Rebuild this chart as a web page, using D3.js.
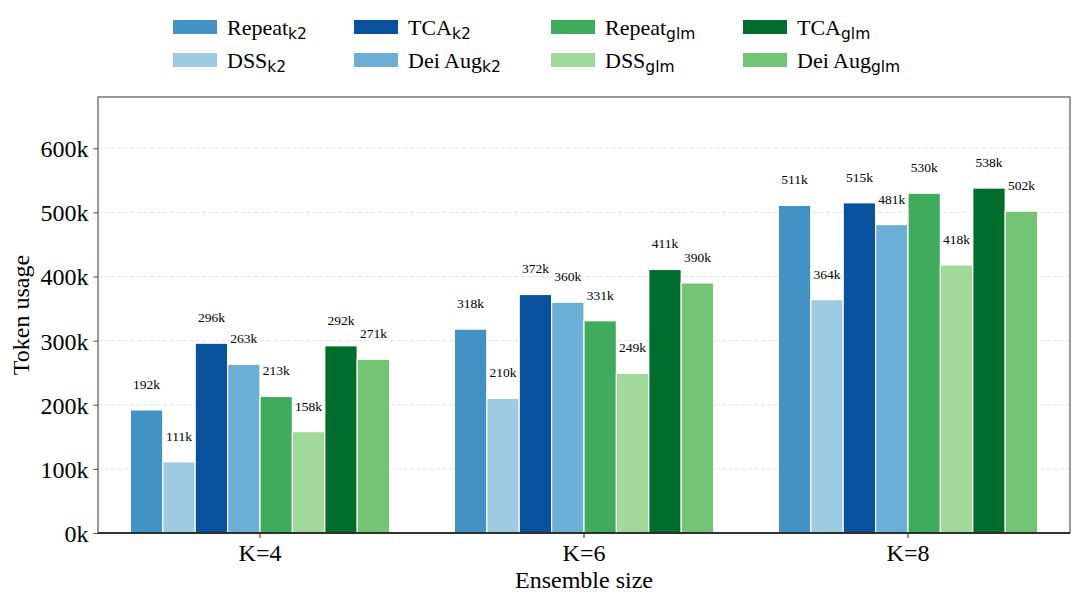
<!DOCTYPE html>
<html>
<head>
<meta charset="utf-8">
<script src="https://cdn.jsdelivr.net/npm/d3@7"></script>
<style>
  body { margin: 0; background: #fff; }
  text { font-family: "Liberation Serif", "Times New Roman", serif; fill: #000; }
</style>
</head>
<body>
<script>
// data
var groups = ["K=4", "K=6", "K=8"];
var seriesName = ["Repeat", "DSS", "TCA", "Dei Aug", "Repeat", "DSS", "TCA", "Dei Aug"];
var seriesSub = ["k2", "k2", "k2", "k2", "glm", "glm", "glm", "glm"];
var seriesColor = ["#4292c6", "#9ecae1", "#08519c", "#6baed6", "#41ab5d", "#a1d99b", "#006d2c", "#74c476"];
// token usage in thousands, one array per group, in series order
var k4 = [192, 111, 296, 263, 213, 158, 292, 271];
var k6 = [318, 210, 372, 360, 331, 249, 411, 390];
var k8 = [511, 364, 515, 481, 530, 418, 538, 502];
var yTicks = [0, 100, 200, 300, 400, 500, 600];

var values = [k4, k6, k8];

var width = 1080, height = 604;
var margin = {left: 98, right: 10, top: 97, bottom: 71};

var svg = d3.select("body")
    .append("svg")
    .attr("width", width)
    .attr("height", height);

var x = d3.scaleBand()
    .domain(groups)
    .range([margin.left, width - margin.right])
    .padding(0);

var inner = d3.scaleBand()
    .domain(d3.range(seriesName.length))
    .range([0, x.bandwidth() * 0.8]);

var y = d3.scaleLinear()
    .domain([0, 680])
    .range([height - margin.bottom, margin.top]);

// grid lines
svg.append("g")
    .selectAll("line")
    .data(yTicks.filter(d => d > 0))
    .enter()
    .append("line")
    .attr("x1", margin.left)
    .attr("x2", width - margin.right)
    .attr("y1", d => y(d))
    .attr("y2", d => y(d))
    .attr("stroke", "#dcdcdc")
    .attr("stroke-width", 0.8)
    .attr("stroke-dasharray", "4,2.5");

// bars
var groupG = svg.selectAll(".grp")
    .data(groups)
    .enter()
    .append("g")
    .attr("class", "grp")
    .attr("transform", d => "translate(" + (x(d) + x.bandwidth() * 0.1) + ",0)");

groupG.each(function (g, gi) {
    var sel = d3.select(this);
    var vals = values[gi];
    sel.selectAll("rect")
        .data(vals)
        .enter()
        .append("rect")
        .attr("x", (d, i) => inner(i))
        .attr("width", inner.bandwidth())
        .attr("y", d => y(d))
        .attr("height", d => y(0) - y(d))
        .attr("fill", (d, i) => seriesColor[i])
        .attr("stroke", "#fff")
        .attr("stroke-width", 1.2);

    sel.selectAll("text.val")
        .data(vals)
        .enter()
        .append("text")
        .attr("class", "val")
        .attr("x", (d, i) => inner(i) + inner.bandwidth() / 2)
        .attr("y", d => y(d) - 21)
        .attr("text-anchor", "middle")
        .style("font-size", "13.5px")
        .text(d => d + "k");
});

// axes
var yAxis = d3.axisLeft(y)
    .tickValues(yTicks)
    .tickFormat(d => d + "k")
    .tickSize(4.5)
    .tickPadding(5);

var yg = svg.append("g")
    .attr("transform", "translate(" + margin.left + ",0)")
    .call(yAxis);
yg.select(".domain").remove();
yg.selectAll("text").style("font-size", "24px").attr("dy", "0.35em");
yg.selectAll("line").attr("stroke", "#444");

var xAxis = d3.axisBottom(x)
    .tickSize(5)
    .tickPadding(6);

var xg = svg.append("g")
    .attr("transform", "translate(0," + y(0) + ")")
    .call(xAxis);
xg.select(".domain").remove();
xg.selectAll("text").style("font-size", "24px").attr("dy", "0.71em");
xg.selectAll("line").attr("stroke", "#222");

// frame
svg.append("rect")
    .attr("x", margin.left)
    .attr("y", margin.top)
    .attr("width", width - margin.left - margin.right)
    .attr("height", y(0) - margin.top)
    .attr("fill", "none")
    .attr("stroke", "#555")
    .attr("stroke-width", 1.2);

svg.append("line")
    .attr("x1", margin.left)
    .attr("x2", width - margin.right)
    .attr("y1", y(0))
    .attr("y2", y(0))
    .attr("stroke", "#111")
    .attr("stroke-width", 1.3);

// axis titles
svg.append("text")
    .attr("x", (margin.left + width - margin.right) / 2)
    .attr("y", 588)
    .attr("text-anchor", "middle")
    .style("font-size", "24px")
    .text("Ensemble size");

svg.append("text")
    .attr("transform", "translate(29," + ((margin.top + y(0)) / 2) + ") rotate(-90)")
    .attr("text-anchor", "middle")
    .style("font-size", "24px")
    .text("Token usage");

// legend, 4 columns x 2 rows, filled column-wise
var legendCols = [173, 354, 551, 743];
var legendRows = [20, 53];

var leg = svg.selectAll(".leg")
    .data(seriesName)
    .enter()
    .append("g")
    .attr("class", "leg")
    .attr("transform", (d, i) => "translate(" + legendCols[Math.floor(i / 2)] + "," + legendRows[i % 2] + ")");

leg.append("rect")
    .attr("width", 44)
    .attr("height", 14)
    .attr("fill", (d, i) => seriesColor[i]);

var lt = leg.append("text")
    .attr("x", 54)
    .attr("y", 15)
    .style("font-size", "22px");

lt.append("tspan").text(d => d);
lt.append("tspan")
    .attr("dy", 4)
    .style("font-family", "'DejaVu Sans', sans-serif")
    .style("font-size", "15.5px")
    .text((d, i) => seriesSub[i]);
</script>
</body>
</html>
